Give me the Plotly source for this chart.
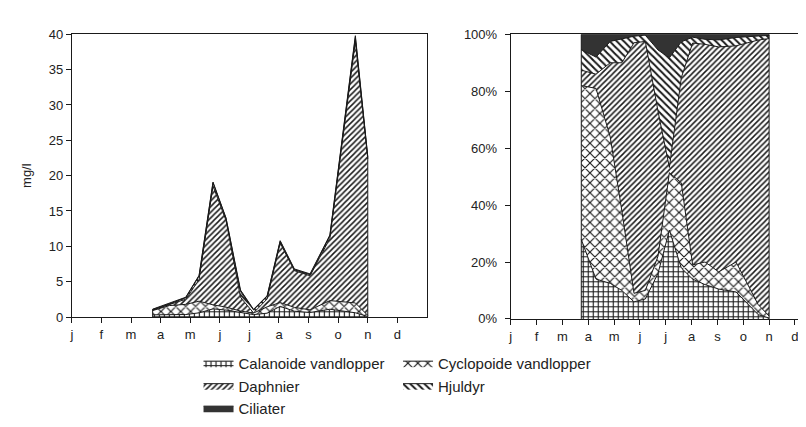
import plotly.graph_objects as go

# sampling dates (month index from 1 January)
t = [2.73, 3.30, 3.85, 4.30, 4.77, 5.21, 5.70, 6.14, 6.60, 7.04, 7.52, 8.05, 8.72, 9.58, 10.00]

# biomass, mg/l
calanoide = [0.31, 0.28, 0.35, 0.59, 1.15, 0.98, 0.61, 0.34, 0.54, 1.51, 0.82, 0.64, 1.10, 0.60, 0.07]
cyclopoide = [0.60, 1.34, 1.44, 1.65, 0.57, 0.42, 0.23, 0.22, 0.90, 0.54, 0.54, 0.37, 1.22, 1.39, 0.16]
daphnier = [0.06, 0.10, 0.73, 3.07, 16.81, 12.25, 1.94, 0.02, 1.11, 8.42, 5.20, 4.82, 8.82, 37.01, 22.13]
hjuldyr = [0.08, 0.12, 0.21, 0.50, 0.44, 0.31, 0.82, 0.42, 0.38, 0.22, 0.12, 0.15, 0.34, 0.56, 0.25]
ciliater = [0.06, 0.16, 0.07, 0.09, 0.13, 0.04, 0.21, 0.09, 0.08, 0.11, 0.12, 0.12, 0.13, 0.24, 0.09]

month_labels = ["j", "f", "m", "a", "m", "j", "j", "a", "s", "o", "n", "d"]
y_ticks_left = [0, 5, 10, 15, 20, 25, 30, 35, 40]
y_ticks_right = [0, 20, 40, 60, 80, 100]
y_ticktext_right = ["0%", "20%", "40%", "60%", "80%", "100%"]

series = [
    ("Calanoide vandlopper", calanoide, dict(shape="+", size=5, solidity=0.4), "white", "legend"),
    ("Cyclopoide vandlopper", cyclopoide, dict(shape="x", size=7, solidity=0.3), "white", "legend2"),
    ("Daphnier", daphnier, dict(shape="/", size=4, solidity=0.38), "white", "legend"),
    ("Hjuldyr", hjuldyr, dict(shape="\\", size=5, solidity=0.4), "white", "legend2"),
    ("Ciliater", ciliater, None, "#333333", "legend"),
]

fig = go.Figure()
LINE = dict(color="#1a1a1a", width=1)

for side in ("left", "right"):
    for i, (name, vals, pat, fc, lg) in enumerate(series):
        kw = {}
        if pat is not None:
            p = dict(pat)
            p.update(fgcolor="#1a1a1a", bgcolor="white", fillmode="replace")
            kw["fillpattern"] = p
        tr = go.Scatter(
            x=t, y=vals, name=name, mode="lines", line=LINE,
            stackgroup=side, fillcolor=fc,
            xaxis="x" if side == "left" else "x2",
            yaxis="y" if side == "left" else "y2",
            showlegend=(side == "left"), legend=lg,
            hoverinfo="skip", **kw,
        )
        if side == "right" and i == 0:
            tr.update(groupnorm="percent")
        fig.add_trace(tr)

# vertical edges of the stacked areas (start and end of the sampling period)
totals = [a + b + c + d + e for a, b, c, d, e in zip(calanoide, cyclopoide, daphnier, hjuldyr, ciliater)]
for xi, top in ((t[0], totals[0]), (t[-1], totals[-1])):
    fig.add_trace(go.Scatter(x=[xi, xi], y=[0, top], mode="lines", line=LINE,
                             showlegend=False, hoverinfo="skip", xaxis="x", yaxis="y"))
    fig.add_trace(go.Scatter(x=[xi, xi], y=[0, 100], mode="lines", line=LINE,
                             showlegend=False, hoverinfo="skip", xaxis="x2", yaxis="y2"))

FONT = "Liberation Sans, Arial, sans-serif"
W, H = 806, 427
axis_common = dict(showline=True, linecolor="#1a1a1a", linewidth=1, ticks="outside",
                   ticklen=5, tickcolor="#1a1a1a", showgrid=False, zeroline=False,
                   tickfont=dict(family=FONT, size=13, color="#222"))

legend_common = dict(xanchor="left", yanchor="top", traceorder="normal",
                     font=dict(family=FONT, size=15, color="#222"), tracegroupgap=0,
                     bgcolor="rgba(0,0,0,0)", itemwidth=30)

fig.update_layout(
    width=W, height=H, margin=dict(l=0, r=0, t=0, b=0),
    paper_bgcolor="white", plot_bgcolor="white",
    font=dict(family=FONT, color="#222"),
    xaxis=dict(domain=[62 / W, 418 / W], range=[0, 12], tickvals=list(range(12)),
               ticktext=month_labels, mirror=True, ticklabelstandoff=0, **axis_common),
    yaxis=dict(domain=[(H - 313) / H, (H - 20) / H], range=[0, 40], tickvals=y_ticks_left,
               mirror=True, title=dict(text="mg/l", font=dict(family=FONT, size=13), standoff=14),
               **axis_common),
    xaxis2=dict(domain=[502 / W, 1.0], range=[0, (W - 502) / 25.9], tickvals=list(range(12)),
                ticktext=month_labels, mirror=True, ticklabelstandoff=0, anchor="y2",
                **axis_common),
    yaxis2=dict(domain=[(H - 315) / H, (H - 20) / H], range=[0, 100], tickvals=y_ticks_right,
                ticktext=y_ticktext_right, anchor="x2", ticklabelstandoff=5, **axis_common),
    legend=dict(x=189 / W, y=1 - 344 / H, **legend_common),
    legend2=dict(x=389 / W, y=1 - 344 / H, **legend_common),
)

fig.write_html("out.html")
